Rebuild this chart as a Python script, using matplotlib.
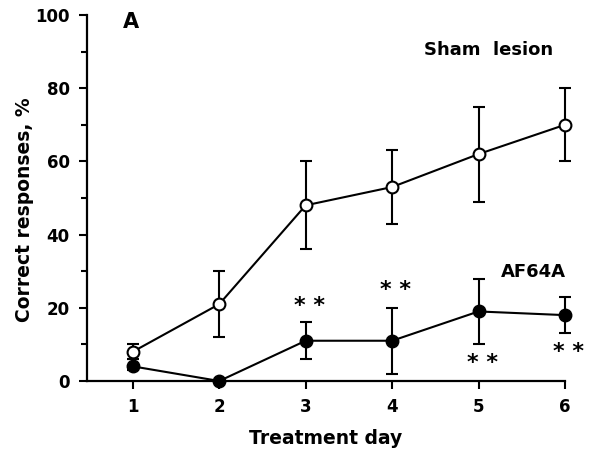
import matplotlib
matplotlib.use("Agg")
import matplotlib.pyplot as plt
from matplotlib.ticker import MultipleLocator

days = [1, 2, 3, 4, 5, 6]
sham_mean = [8, 21, 48, 53, 62, 70]
sham_upper = [10, 30, 60, 63, 75, 80]
sham_lower = [6, 12, 36, 43, 49, 60]
af_mean = [4, 0, 11, 11, 19, 18]
af_upper = [6, 0, 16, 20, 28, 23]
af_lower = [3, 0, 6, 2, 10, 13]
star_days = [3, 4, 5, 6]
star_y = [20.5, 24.9, 4.9, 7.9]

plt.rcParams['font.family'] = ['DejaVu Sans']
plt.rcParams['font.weight'] = 'bold'

fig = plt.figure(figsize=(5.89, 4.59), dpi=100)
ax = fig.add_axes([87/589, 1-381/459, (565-87)/589, (381-15)/459])

def err(mean, up, lo):
    return [[m - l for m, l in zip(mean, lo)], [u - m for m, u in zip(mean, up)]]

kw = dict(color='black', lw=1.5, elinewidth=1.5, capsize=4.3, capthick=1.5, clip_on=False)
ax.errorbar(days, sham_mean, yerr=err(sham_mean, sham_upper, sham_lower),
            marker='o', ms=8.5, mfc='white', mec='black', mew=1.5, zorder=3, **kw)
ax.errorbar(days, af_mean, yerr=err(af_mean, af_upper, af_lower),
            marker='o', ms=9, mfc='black', mec='black', zorder=4, **kw)

for d, y in zip(star_days, star_y):
    ax.text(d + 0.04, y, '* *', ha='center', va='center', fontsize=16, fontweight='bold')

ax.text(5.11, 90.4, 'Sham  lesion', ha='center', va='center', fontsize=13, fontweight='bold')
ax.text(5.63, 29.8, 'AF64A', ha='center', va='center', fontsize=13, fontweight='bold')
ax.text(0.98, 98, 'A', ha='center', va='center', fontsize=15, fontweight='bold')

ax.set_xlim(0.47, 6.0)
ax.set_ylim(0, 100)
ax.set_xticks(days)
ax.yaxis.set_major_locator(MultipleLocator(20))
ax.yaxis.set_minor_locator(MultipleLocator(10))
for s in ['top', 'right']:
    ax.spines[s].set_visible(False)
for s in ['left', 'bottom']:
    ax.spines[s].set_linewidth(1.6)
ax.tick_params(axis='both', which='major', direction='out', length=5.5, width=1.5, labelsize=12)
ax.tick_params(axis='y', which='minor', direction='out', length=4.5, width=1.5)
ax.tick_params(axis='y', pad=7)
ax.tick_params(axis='x', pad=7)
ax.set_xlabel('Treatment day', fontsize=13.5, fontweight='bold')
ax.set_ylabel('Correct responses, %', fontsize=13.5, fontweight='bold')
ax.xaxis.set_label_coords(0.5, -(439 - 381) / 366, transform=ax.transAxes)
ax.yaxis.set_label_coords(-(87 - 25) / 478, (381 - 210) / 366, transform=ax.transAxes)
ax.xaxis.label.set_va('center')
ax.yaxis.label.set_va('center')

fig.savefig('out.png', dpi=100)
